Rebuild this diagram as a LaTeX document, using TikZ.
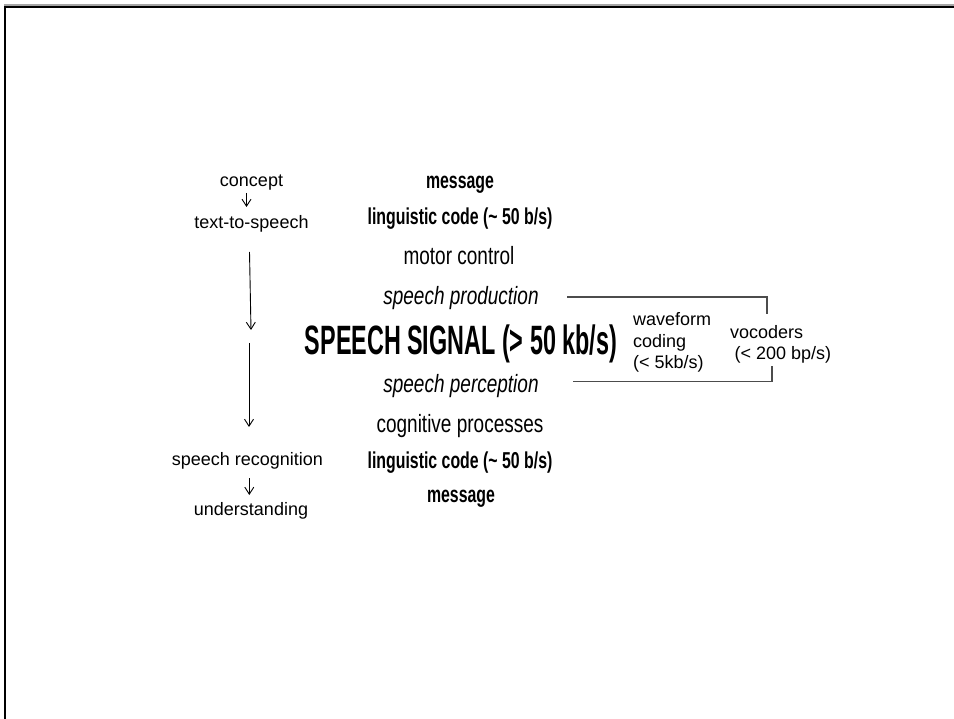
\documentclass[tikz,border=0pt]{standalone}
\usepackage{fontspec}
\setmainfont{Liberation Sans}
\newfontfamily\regfont[FakeStretch=0.76]{Liberation Sans}
\newfontfamily\bldfont[FakeStretch=0.69]{Liberation Sans}
\newfontfamily\sigfont[FakeStretch=0.57]{Liberation Sans}
\usetikzlibrary{arrows.meta}
\begin{document}
\begin{tikzpicture}[x=1pt,y=-1pt,
  lefttext/.style={anchor=base,inner sep=0pt,font=\fontsize{18}{21}\selectfont},
  regtext/.style={anchor=base,inner sep=0pt,font=\regfont\fontsize{25}{30}\selectfont},
  itatext/.style={anchor=base,inner sep=0pt,font=\regfont\itshape\fontsize{25}{30}\selectfont},
  bldtext/.style={anchor=base,inner sep=0pt,font=\bldfont\bfseries\fontsize{23}{28}\selectfont},
  sigtext/.style={anchor=base,inner sep=0pt,font=\sigfont\bfseries\fontsize{41}{48}\selectfont},
  sidetext/.style={anchor=base west,inner sep=0pt,align=left,font=\fontsize{18}{21.8}\selectfont},
  flow/.style={line width=0.9pt,-{Straight Barb[length=7pt,width=9pt,line width=0.9pt]}},
  bracketline/.style={line width=1.2pt,draw=black!70}]
\useasboundingbox (0,0) rectangle (954,719);
% frame
\draw[line width=2.4pt,black!35] (5,719) -- (5,5.5) -- (954,5.5);
\draw[line width=2pt] (5,719) -- (5,7) -- (954,7);

% left column
\node[lefttext] (concept) at (251.5,187) {concept};
\node[lefttext] (tts) at (251.5,229) {text-to-speech};
\node[lefttext] (recog) at (247.5,465) {speech recognition};
\node[lefttext] (underst) at (251,515) {understanding};
\coordinate (a1s) at (246.5,193);
\coordinate (a1e) at (246.5,207);
\coordinate (a2s) at (249.5,252);
\coordinate (a2e) at (251,330);
\coordinate (a3s) at (249,343);
\coordinate (a3e) at (249,427);
\coordinate (a4s) at (249.3,478);
\coordinate (a4e) at (249.3,495);
\draw[flow] (a1s) -- (a1e);
\draw[flow] (a2s) -- (a2e);
\draw[flow] (a3s) -- (a3e);
\draw[flow] (a4s) -- (a4e);

% centre column
\node[bldtext] (msg1) at (460,189) {message};
\node[bldtext] (ling1) at (460,225) {linguistic code (\textasciitilde{} 50 b/s)};
\node[regtext] (motor) at (459,265) {motor control};
\node[itatext] (prod) at (461,305) {speech production};
\node[sigtext] (signal) at (461,355) {SPEECH SIGNAL (> 50 kb/s)};
\node[itatext] (perc) at (461,393) {speech perception};
\node[regtext] (cogn) at (460,432) {cognitive processes};
\node[bldtext] (ling2) at (460,468) {linguistic code (\textasciitilde{} 50 b/s)};
\node[bldtext] (msg2) at (461,502) {message};

% right side (base anchor = baseline of the last line)
\node[sidetext] (wave) at (633,369) {waveform\\coding\\(< 5kb/s)};
\node[sidetext] (voc) at (730,360) {vocoders\\\hspace{4.5pt}(< 200 bp/s)};
\coordinate (t1) at (567,297);
\coordinate (t2) at (767,297);
\coordinate (t3) at (767,314);
\coordinate (u1) at (573,381.5);
\coordinate (u2) at (772,381.5);
\coordinate (u3) at (772,366);
\draw[bracketline] (t1) -- (t2) -- (t3);
\draw[bracketline] (u1) -- (u2) -- (u3);
\end{tikzpicture}
\end{document}
